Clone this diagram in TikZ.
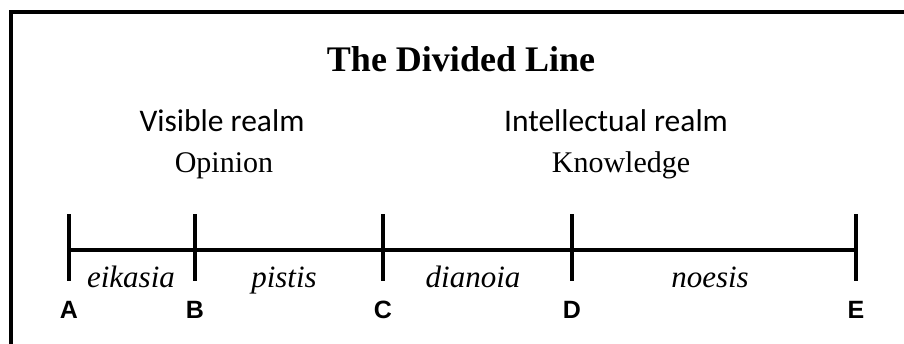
\documentclass[tikz,border=0pt]{standalone}
\usepackage{fontspec}
\setmainfont{Liberation Serif}
\newfontfamily\calib{Carlito}
\newfontfamily\arialf{Liberation Sans}
\begin{document}
\begin{tikzpicture}[x=1pt,y=1pt,
  frameline/.style={line width=4pt},
  mainline/.style={line width=3.6pt},
  tickline/.style={line width=3.6pt},
  titletext/.style={font=\fontsize{36}{40}\selectfont\bfseries, anchor=base, inner sep=0pt},
  realmtext/.style={font=\calib\fontsize{31.5}{36}\selectfont, anchor=base, inner sep=0pt},
  kindtext/.style={font=\fontsize{30}{34}\selectfont, anchor=base, inner sep=0pt},
  segtext/.style={font=\itshape\fontsize{31}{34}\selectfont, anchor=base, inner sep=0pt},
  lettertext/.style={font=\arialf\bfseries\fontsize{25}{28}\selectfont, anchor=base, inner sep=0pt}]
\useasboundingbox (0,0) rectangle (904,343);
\fill[white] (0,0) rectangle (904,343);
% frame (only top and left edges visible)
\coordinate (fbl) at (11,-5);
\coordinate (ftl) at (11,331);
\coordinate (ftr) at (910,331);
\draw[frameline] (fbl) -- (ftl) -- (ftr);
% title and headings
\node[titletext] (title) at (461,271) {The Divided Line};
\node[realmtext] (visible) at (222,211) {Visible realm};
\node[kindtext] (opinion) at (224,171) {Opinion};
\node[realmtext] (intel) at (616,211) {Intellectual realm};
\node[kindtext] (knowledge) at (621,171) {Knowledge};
% points on the line
\coordinate (A) at (69,93);
\coordinate (B) at (195,93);
\coordinate (C) at (383,93);
\coordinate (D) at (572,93);
\coordinate (E) at (856,93);
\draw[mainline] (A) -- (E);
\foreach \p in {A,B,C,D,E}{
  \coordinate (\p top) at ([yshift=36pt]\p);
  \coordinate (\p bot) at ([yshift=-31pt]\p);
  \draw[tickline] (\p top) -- (\p bot);
}
% letters
\node[lettertext] (lA) at (69,25) {A};
\node[lettertext] (lB) at (195,25) {B};
\node[lettertext] (lC) at (383,25) {C};
\node[lettertext] (lD) at (572,25) {D};
\node[lettertext] (lE) at (856,25) {E};
% segment names
\node[segtext] (eik) at (131,56) {eikasia};
\node[segtext] (pis) at (284,56) {pistis};
\node[segtext] (dia) at (473,56) {dianoia};
\node[segtext] (noe) at (710,56) {noesis};
\end{tikzpicture}
\end{document}
